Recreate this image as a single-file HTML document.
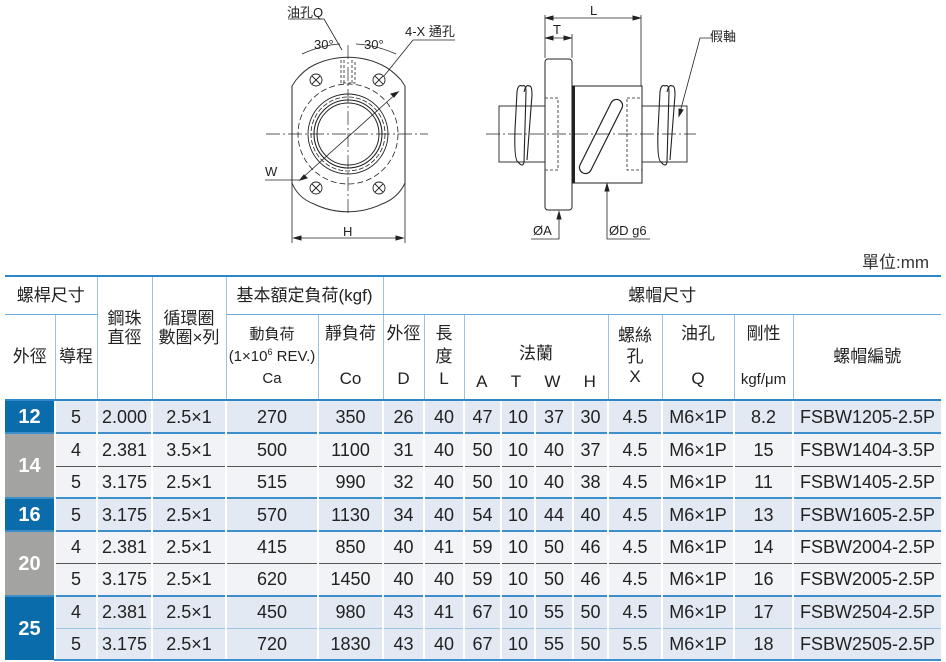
<!DOCTYPE html>
<html><head><meta charset="utf-8">
<style>
html,body{margin:0;padding:0;background:#fff;}
body{width:946px;height:662px;position:relative;overflow:hidden;font-family:"Liberation Sans","Noto Sans CJK TC",sans-serif;color:#222;}
svg{position:absolute;left:0;top:0;}
.unit{position:absolute;left:862px;top:248px;font-size:17px;color:#333;}
table{position:absolute;left:5px;top:275px;border-collapse:collapse;table-layout:fixed;width:936px;}
td{padding:0;text-align:center;vertical-align:middle;font-size:17px;line-height:1.15;white-space:nowrap;}
.h td{background:#fff;border-left:1px solid #9cc3e4;border-right:1px solid #9cc3e4;}
.h1 td{border-top:2px solid #2f86c6;border-bottom:1px solid #6aa8d8;height:37px;}
.h2 td{height:84px;border-bottom:2px solid #2f86c6;}
.b td{border-left:2px solid #fff;font-size:18px;line-height:1;}
.bl td{background:#e2e9f2;}
.gr td{background:#f2f3f6;}
.k{color:#fff!important;font-weight:bold;font-size:20px!important;}
.kb{background:#0b6cab!important;}
.kg{background:#a3a3a1!important;}
.top-blue td{border-top:2px solid #3c8fcb;}
.top-dark td{border-top:1.5px solid #555;}
.top-lb td{border-top:1px solid #9cc3e4;}
.last td{border-bottom:2px solid #3c8fcb;}
</style></head><body>
<svg width="946" height="262" viewBox="0 0 946 262" font-family="Liberation Sans, Noto Sans CJK TC, sans-serif" font-size="13" fill="none" stroke="#222" stroke-width="1">
<path d="M296 80 Q304 70 314 65 A78 78 0 0 1 382 65 Q392 70 401 80 L405 86 L405 183 Q398 198 382 204 A78 78 0 0 1 314 204 Q298 198 292 183 L292 86 Z" stroke="#333"/>
<line x1="292" y1="86" x2="292" y2="243" stroke-width="0.8"/>
<line x1="405" y1="86" x2="405" y2="243" stroke-width="0.8"/>
<line x1="294" y1="238" x2="403" y2="238" stroke-width="0.8"/>
<path d="M294 238 l7 -2 v4z M403 238 l-7 -2 v4z" fill="#222"/>
<text x="343" y="236" fill="#222" stroke="none">H</text>
<line x1="266" y1="134" x2="428" y2="134" stroke-width="0.7" stroke-dasharray="14 3 2 3"/>
<line x1="348" y1="45" x2="348" y2="215" stroke-width="0.7" stroke-dasharray="14 3 2 3"/>
<circle cx="348" cy="134" r="50" stroke-dasharray="6 3" stroke-width="0.8"/>
<circle cx="348" cy="134" r="40" stroke-width="0.9"/>
<circle cx="348" cy="134" r="37" stroke-dasharray="5 2" stroke-width="0.8"/>
<circle cx="348" cy="134" r="34" stroke-width="1.1"/>
<circle cx="348" cy="134" r="31" stroke-width="1"/>
<g stroke-width="0.9">
<circle cx="316" cy="80" r="6"/><path d="M312 76 l8 8 M320 76 l-8 8"/>
<circle cx="379" cy="80" r="6"/><path d="M375 76 l8 8 M383 76 l-8 8"/>
<circle cx="316" cy="188" r="6"/><path d="M312 184 l8 8 M320 184 l-8 8"/>
<circle cx="379" cy="188" r="6"/><path d="M375 184 l8 8 M383 184 l-8 8"/>
</g>
<path d="M341 60 V83 H355 V60 M344 60 V83 M352 60 V83" stroke-dasharray="3 2" stroke-width="0.8"/>
<path d="M300 180 L398 92" stroke-width="0.8"/>
<path d="M398 92 l-7 2 l3 3z" fill="#222"/>
<path d="M300 180 l7 -2 l-3 -3z" fill="#222"/>
<path d="M300 180 L265 180" stroke-width="0.8"/>
<text x="265" y="176" fill="#222" stroke="none">W</text>
<path d="M288 19 H324 L342 50" stroke-width="0.8"/>
<text x="287" y="17" fill="#222" stroke="none">油孔Q</text>
<path d="M455 40 H413 L384 76" stroke-width="0.8"/>
<text x="405" y="36" fill="#222" stroke="none">4-X 通孔</text>
<path d="M302 54 Q322 45 340 44 M356 44 Q376 45 396 54" stroke-width="0.8"/>
<text x="314" y="49" fill="#222" stroke="none">30°</text>
<text x="364" y="49" fill="#222" stroke="none">30°</text>
<line x1="486" y1="134" x2="696" y2="134" stroke-width="0.7" stroke-dasharray="14 3 2 3"/>
<rect x="499" y="106" width="46" height="56" stroke-width="0.9"/>
<rect x="642" y="106" width="45" height="56" stroke-width="0.9"/>
<rect x="545" y="59" width="27" height="151" rx="3" stroke-width="1"/>
<rect x="573" y="86" width="69" height="97" stroke-width="1"/>
<line x1="574" y1="86" x2="574" y2="183" stroke-width="2"/>
<rect x="545" y="98" width="13" height="72" stroke-dasharray="3 2" stroke-width="0.8"/>
<rect x="627" y="98" width="15" height="72" stroke-dasharray="3 2" stroke-width="0.8"/>
<path d="M580 165 L611 103 A6 6 0 0 1 622 108 L591 170 A6 6 0 0 1 580 165 Z" stroke-width="1.2"/>
<g stroke-width="1.1">
<path d="M518 162 Q514 160 515 130 L517 92 Q518 84 522 86 Q526 84 526 92 L524 162 Q523 168 518 162Z"/>
<path d="M524 92 Q526 84 529 86 Q532 85 532 95 L527 160"/>
<path d="M661 162 Q657 160 658 130 L660 92 Q661 84 665 86 Q669 84 669 92 L667 162 Q666 168 661 162Z"/>
<path d="M667 92 Q669 84 672 86 Q675 85 675 95 L670 160"/>
</g>
<line x1="545" y1="15" x2="545" y2="58" stroke-width="0.8"/>
<line x1="641" y1="15" x2="641" y2="86" stroke-width="0.8"/>
<line x1="572" y1="34" x2="572" y2="58" stroke-width="0.8"/>
<line x1="546" y1="18" x2="640" y2="18" stroke-width="0.8"/>
<path d="M546 18 l7 -2 v4z M640 18 l-7 -2 v4z M546 38 l7 -2 v4z M571 38 l-7 -2 v4z" fill="#222"/>
<line x1="546" y1="38" x2="571" y2="38" stroke-width="0.8"/>
<text x="590" y="15" fill="#222" stroke="none">L</text>
<text x="553" y="34" fill="#222" stroke="none">T</text>
<path d="M559 212 V239 H531" stroke-width="0.8"/>
<path d="M559 212 l-2 7 h4z" fill="#222"/>
<text x="533" y="235" fill="#222" stroke="none">ØA</text>
<path d="M607 184 V239 H650" stroke-width="0.8"/>
<path d="M607 184 l-2 7 h4z" fill="#222"/>
<text x="609" y="235" fill="#222" stroke="none">ØD g6</text>
<path d="M712 38 H700 L679 116" stroke-width="0.8"/>
<path d="M679 116 l0 -7 l4 1z" fill="#222"/>
<text x="710" y="41" fill="#222" stroke="none">假軸</text>
</svg>
<div class="unit">單位:mm</div>
<table>
<colgroup><col style="width:50px"><col style="width:42px"><col style="width:55px"><col style="width:74px"><col style="width:92px"><col style="width:65px"><col style="width:41px"><col style="width:40px"><col style="width:37px"><col style="width:34px"><col style="width:38px"><col style="width:35px"><col style="width:54px"><col style="width:72px"><col style="width:59px"><col style="width:148px"></colgroup>
<tr class="h h1"><td colspan="2" style="border-left:none">螺桿尺寸</td><td rowspan="2" style="border-bottom:2px solid #2f86c6">鋼珠<br>直徑<br>&nbsp;</td><td rowspan="2" style="border-bottom:2px solid #2f86c6">循環圈<br>數圈×列<br>&nbsp;</td><td colspan="2">基本額定負荷(kgf)</td><td colspan="10" style="border-right:none">螺帽尺寸</td></tr>
<tr class="h h2"><td style="border-left:none">外徑</td><td>導程</td><td style="font-size:15px;line-height:1.45">動負荷<br>(1×10<sup style="font-size:9px">6</sup> REV.)<br>Ca</td><td style="line-height:1.35">靜負荷<br><br>Co</td><td style="line-height:1.35">外徑<br><br>D</td><td style="line-height:1.35">長<br>度<br>L</td><td colspan="4" style="line-height:1.35"><br>法蘭<br><div style="display:flex;justify-content:space-around;padding-top:6px"><span>A</span><span>T</span><span>W</span><span>H</span></div></td><td style="line-height:1.2">螺絲<br>孔<br>X</td><td style="line-height:1.35">油孔<br><br>Q</td><td style="line-height:1.35">剛性<br><br><span style="font-size:15px">kgf/μm</span></td><td style="border-right:none">螺帽編號</td></tr>
<tr class="b bl" style="height:33px"><td class="k kb" style="border-left:none">12</td><td>5</td><td>2.000</td><td>2.5×1</td><td>270</td><td>350</td><td>26</td><td>40</td><td>47</td><td>10</td><td>37</td><td>30</td><td>4.5</td><td>M6×1P</td><td>8.2</td><td>FSBW1205-2.5P</td></tr>
<tr class="b gr top-blue" style="height:33px"><td class="k kg" rowspan="2" style="border-left:none">14</td><td>4</td><td>2.381</td><td>3.5×1</td><td>500</td><td>1100</td><td>31</td><td>40</td><td>50</td><td>10</td><td>40</td><td>37</td><td>4.5</td><td>M6×1P</td><td>15</td><td>FSBW1404-3.5P</td></tr>
<tr class="b gr top-dark" style="height:32px"><td>5</td><td>3.175</td><td>2.5×1</td><td>515</td><td>990</td><td>32</td><td>40</td><td>50</td><td>10</td><td>40</td><td>38</td><td>4.5</td><td>M6×1P</td><td>11</td><td>FSBW1405-2.5P</td></tr>
<tr class="b bl top-blue" style="height:33px"><td class="k kb" style="border-left:none">16</td><td>5</td><td>3.175</td><td>2.5×1</td><td>570</td><td>1130</td><td>34</td><td>40</td><td>54</td><td>10</td><td>44</td><td>40</td><td>4.5</td><td>M6×1P</td><td>13</td><td>FSBW1605-2.5P</td></tr>
<tr class="b gr top-blue" style="height:32px"><td class="k kg" rowspan="2" style="border-left:none">20</td><td>4</td><td>2.381</td><td>2.5×1</td><td>415</td><td>850</td><td>40</td><td>41</td><td>59</td><td>10</td><td>50</td><td>46</td><td>4.5</td><td>M6×1P</td><td>14</td><td>FSBW2004-2.5P</td></tr>
<tr class="b gr top-dark" style="height:33px"><td>5</td><td>3.175</td><td>2.5×1</td><td>620</td><td>1450</td><td>40</td><td>40</td><td>59</td><td>10</td><td>50</td><td>46</td><td>4.5</td><td>M6×1P</td><td>16</td><td>FSBW2005-2.5P</td></tr>
<tr class="b bl top-blue" style="height:32px"><td class="k kb" rowspan="2" style="border-left:none">25</td><td>4</td><td>2.381</td><td>2.5×1</td><td>450</td><td>980</td><td>43</td><td>41</td><td>67</td><td>10</td><td>55</td><td>50</td><td>4.5</td><td>M6×1P</td><td>17</td><td>FSBW2504-2.5P</td></tr>
<tr class="b bl top-lb last" style="height:32px"><td>5</td><td>3.175</td><td>2.5×1</td><td>720</td><td>1830</td><td>43</td><td>40</td><td>67</td><td>10</td><td>55</td><td>50</td><td>5.5</td><td>M6×1P</td><td>18</td><td>FSBW2505-2.5P</td></tr>
</table>
</body></html>
